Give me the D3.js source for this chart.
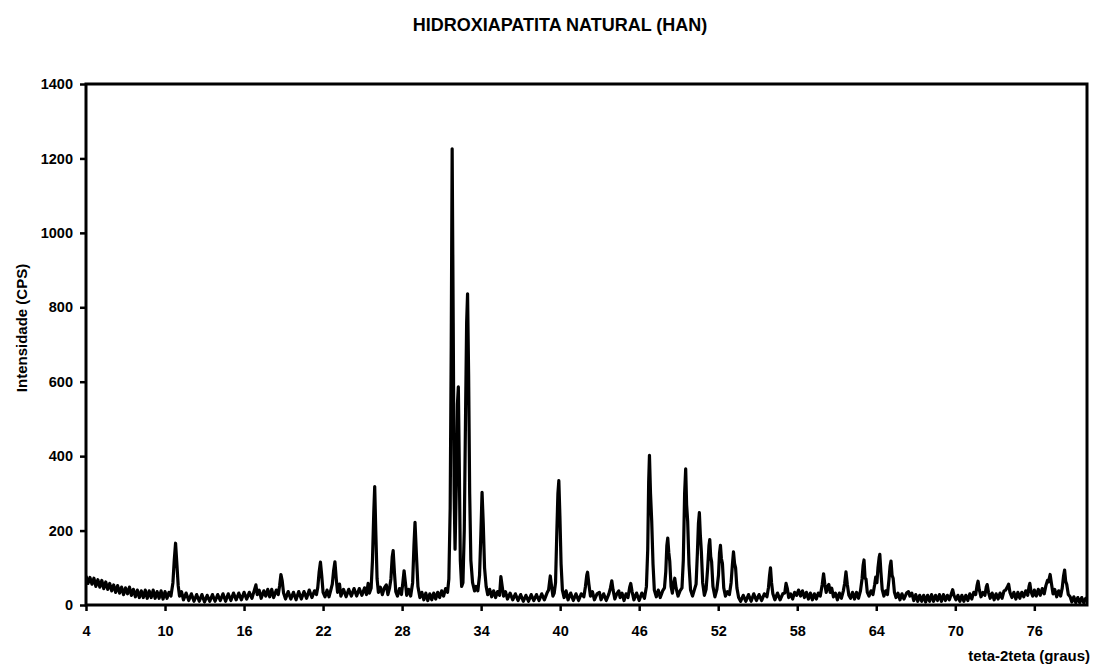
<!DOCTYPE html>
<html>
<head>
<meta charset="utf-8">
<script src="https://cdn.jsdelivr.net/npm/d3@7.9.0/dist/d3.min.js"></script>
<style>
  body { margin: 0; background: #fff; }
  svg { display: block; font-family: Arial, "Liberation Sans", sans-serif; }
  .tick text { font-size: 14.5px; font-weight: bold; fill: #000; }
  .tick line { stroke: #000; stroke-width: 2.5; }
</style>
</head>
<body>
<svg width="1093" height="666"></svg>
<script>
// scan values [2theta, CPS], split by range
let scanLow = [
  [4.0,78],[4.15,58],[4.3,74],[4.45,56],[4.6,72],[4.75,50],[4.9,68],[5.05,48],[5.2,66],[5.35,44],
  [5.5,62],[5.65,42],[5.8,58],[5.95,38],[6.1,54],[6.25,34],[6.4,52],[6.55,32],[6.7,48],[6.85,28],
  [7.0,46],[7.15,30],[7.3,48],[7.45,26],[7.6,42],[7.75,22],[7.9,40],[8.05,20],[8.2,38],[8.35,20],
  [8.5,40],[8.65,18],[8.8,38],[8.95,20],[9.1,40],[9.25,18],[9.4,36],[9.55,18],[9.7,38],[9.85,16],
  [10.0,36],[10.15,18],[10.3,34],[10.45,24],[10.6,60],[10.7,120],[10.8,166],[10.9,110],[11.0,52],
  [11.1,24],[11.25,36],[11.4,14],[11.6,32],[11.8,12],[12.0,30],[12.2,10],[12.4,28],[12.6,10],
  [12.8,28],[13.0,8],[13.2,26],[13.4,10],[13.6,28],[13.8,10],[14.0,28],[14.2,12],[14.4,30],
  [14.6,10],[14.8,30],[15.0,12],[15.2,32],[15.4,14],[15.6,32],[15.8,14],[16.0,34],[16.2,16],
  [16.4,34],[16.6,18]
];
let scanMid = [
  [16.75,36],[16.9,54],[17.0,28],[17.15,40],[17.3,18],[17.5,38],[17.65,24],[17.8,42],[17.95,22],
  [18.1,42],[18.25,20],[18.45,40],[18.6,28],[18.7,52],[18.8,82],[18.9,64],[19.0,32],[19.15,16],
  [19.35,36],[19.55,16],[19.75,34],[19.95,14],[20.15,36],[20.35,16],[20.55,36],[20.75,18],
  [20.95,40],[21.15,20],[21.35,38],[21.5,28],[21.6,48],[21.7,88],[21.8,115],[21.9,78],[22.0,34],
  [22.15,22],[22.3,40],[22.45,22],[22.6,42],[22.7,56],[22.8,92],[22.9,116],[23.0,70],[23.1,34],
  [23.25,56],[23.35,24],[23.55,42],[23.75,22],[23.95,42],[24.15,24],[24.35,44],[24.55,24],
  [24.75,44],[24.95,26],[25.15,46],[25.3,28],[25.42,58],[25.52,32],[25.65,46],[25.75,120],
  [25.85,250],[25.92,318],[26.0,200],[26.1,70],[26.2,34],[26.35,48],[26.5,28],[26.65,46],
  [26.8,54],[26.92,28],[27.05,46],[27.15,70],[27.25,130],[27.32,146],[27.42,86],[27.52,36],
  [27.65,24],[27.8,44],[27.95,28],[28.05,58],[28.15,92],[28.25,60],[28.35,26],[28.5,42],
  [28.65,24],[28.8,60],[28.9,160],[28.98,222],[29.08,140],[29.2,50],[29.35,20],[29.5,34],
  [29.65,14],[29.8,32],[29.95,12],[30.1,30],[30.25,14],[30.4,32],[30.55,16],[30.7,34],
  [30.85,20],[31.0,38],[31.15,24],[31.3,44],[31.45,34],[31.55,70]
];
let scanMain = [
  [31.65,260],[31.73,700],[31.8,1226],[31.88,760],[31.95,300],[32.02,150],[32.12,330],[32.2,540],
  [32.27,586],[32.34,380],[32.42,120],[32.52,50],[32.62,60],[32.72,200],[32.82,520],[32.9,760],
  [32.97,836],[33.05,620],[33.13,300],[33.22,120],[33.35,60],[33.5,38],[33.62,50],[33.75,38],
  [33.88,80],[33.98,190],[34.07,303],[34.16,220],[34.26,100],[34.38,50],[34.5,28],[34.65,42],
  [34.8,22],[34.95,38],[35.1,20],[35.25,36],[35.4,26],[35.5,76],[35.6,50],[35.7,24],[35.85,36],
  [36.0,16]
];
let scanHigh = [
  [36.2,32],[36.4,14],[36.6,30],[36.8,12],[37.0,28],[37.2,10],[37.4,26],[37.6,10],[37.8,28],
  [38.0,12],[38.2,28],[38.4,12],[38.6,30],[38.8,14],[39.0,32],[39.12,40],[39.25,78],[39.35,50],
  [39.45,24],[39.55,32],[39.65,60],[39.75,200],[39.83,300],[39.9,334],[39.98,240],[40.07,110],
  [40.17,40],[40.3,20],[40.45,38],[40.6,14],[40.8,32],[41.0,12],[41.2,30],[41.4,12],[41.6,30],
  [41.8,22],[41.92,50],[42.02,80],[42.08,88],[42.18,56],[42.3,24],[42.45,36],[42.6,14],[42.8,30],
  [42.98,34],[43.1,14],[43.3,30],[43.5,12],[43.7,30],[43.82,46],[43.92,65],[44.02,40],[44.15,16],
  [44.3,30],[44.45,38],[44.55,20],[44.7,32],[44.85,12],[45.0,30],[45.15,20],[45.28,48],[45.36,58],
  [45.46,36],[45.6,14],[45.8,32],[46.0,12],[46.2,32],[46.4,18],[46.55,50],[46.65,150],[46.72,330],
  [46.78,402],[46.86,300],[46.95,226],[47.05,110],[47.15,40],[47.3,22],[47.45,40],[47.6,20],
  [47.78,38],[47.92,46],[48.02,90],[48.1,160],[48.17,180],[48.25,140],[48.32,118],[48.42,50],
  [48.52,32],[48.62,58],[48.7,72],[48.8,46],[48.95,24],[49.1,38],[49.25,46],[49.35,120],
  [49.45,300],[49.53,366],[49.6,270],[49.68,226],[49.78,110],[49.9,40],[50.05,24],[50.2,42],
  [50.32,56],[50.42,140],[50.5,220],[50.57,248],[50.64,190],[50.72,144],[50.82,60],[50.95,26],
  [51.08,42],[51.2,100],[51.3,160],[51.36,176],[51.43,130],[51.5,116],[51.6,50],[51.75,22],
  [51.9,42],[52.02,80],[52.1,140],[52.17,160],[52.24,125],[52.32,112],[52.42,46],[52.55,24],
  [52.7,36],[52.85,28],[52.98,60],[53.08,110],[53.16,143],[53.24,112],[53.32,100],[53.42,46],
  [53.55,20],[53.7,10],[53.9,26]
];
let scanTail = [
  [54.1,10],[54.3,28],[54.5,10],[54.7,30],[54.9,12],[55.1,28],[55.3,12],[55.5,30],[55.7,22],
  [55.82,48],[55.9,80],[55.97,100],[56.05,60],[56.15,30],[56.3,14],[56.5,32],[56.7,14],[56.9,30],
  [57.05,32],[57.15,58],[57.25,44],[57.35,20],[57.5,30],[57.65,16],[57.8,34],[57.95,26],[58.1,40],
  [58.25,24],[58.4,38],[58.55,20],[58.7,34],[58.85,16],[59.0,32],[59.15,14],[59.3,30],[59.45,16],
  [59.6,32],[59.75,24],[59.9,56],[60.0,84],[60.1,54],[60.2,34],[60.3,50],[60.4,55],[60.5,34],
  [60.62,45],[60.75,22],[60.9,32],[61.05,14],[61.2,32],[61.35,18],[61.5,38],[61.6,58],[61.7,89],
  [61.8,56],[61.92,26],[62.05,18],[62.2,34],[62.35,16],[62.5,34],[62.65,18],[62.8,38],[62.92,70],
  [63.0,106],[63.07,121],[63.15,72],[63.22,70],[63.32,34],[63.45,24],[63.6,38],[63.75,28],
  [63.88,55],[63.96,75],[64.05,60],[64.13,100],[64.22,128],[64.27,136],[64.35,90],[64.45,42],
  [64.58,24],[64.72,38],[64.85,28],[64.97,70],[65.05,105],[65.12,118],[65.2,80],[65.28,72],
  [65.38,34],[65.5,20],[65.65,32],[65.8,14],[65.95,30],[66.1,16],[66.3,32],[66.45,36],[66.55,24],
  [66.7,32],[66.85,12],[67.0,28],[67.15,10],[67.3,26],[67.45,10],[67.6,26],[67.75,8],[67.9,26],
  [68.05,10],[68.2,28],[68.35,10],[68.5,26],[68.65,12],[68.8,28],[68.95,10],[69.1,28],[69.25,12],
  [69.4,26],[69.55,14],[69.7,30],[69.8,41],[69.9,26],[70.05,14],[70.2,26],[70.35,10],[70.5,26],
  [70.65,10],[70.8,26],[70.95,12],[71.1,30],[71.25,16],[71.4,34],[71.55,28],[71.65,52],[71.73,64],
  [71.82,42],[71.95,22],[72.1,34],[72.25,26],[72.35,48],[72.42,55],[72.52,34],[72.65,18],[72.8,32],
  [72.95,14],[73.1,30],[73.25,16],[73.4,32],[73.55,18],[73.7,38],[73.82,40],[73.95,48],[74.05,56],
  [74.15,34],[74.3,20],[74.45,34],[74.6,16],[74.75,34],[74.9,18],[75.05,34],[75.2,22],[75.35,38],
  [75.5,26],[75.6,50],[75.66,58],[75.75,36],[75.88,24],[76.0,40],[76.15,24],[76.3,42],[76.45,26],
  [76.6,44],[76.75,30],[76.88,52],[77.0,66],[77.08,62],[77.2,82],[77.3,58],[77.42,30],[77.55,42],
  [77.7,22],[77.85,38],[78.0,24],[78.12,46],[78.22,78],[78.3,94],[78.38,64],[78.46,56],[78.58,28],
  [78.72,22],[78.85,8],[79.0,22],[79.15,6],[79.3,20],[79.45,6],[79.6,20],[79.75,6],[79.9,18],
  [80.0,10]
];
let xTicks = [4, 10, 16, 22, 28, 34, 40, 46, 52, 58, 64, 70, 76];
let yTicks = [0, 200, 400, 600, 800, 1000, 1200, 1400];

let scan = scanLow.concat(scanMid, scanMain, scanHigh, scanTail);

let margin = { top: 84, right: 6, bottom: 61, left: 86 };
let width = 1093 - margin.left - margin.right;
let height = 666 - margin.top - margin.bottom;

let svg = d3.select('svg');
let g = svg.append('g').attr('transform', `translate(${margin.left},${margin.top})`);

let x = d3.scaleLinear().domain([4, 80]).range([0, width]);
let y = d3.scaleLinear().domain([0, 1400]).range([height, 0]);

// clip so the trace stays inside the frame
g.append('clipPath').attr('id', 'plot-clip')
  .append('rect').attr('width', width).attr('height', height);

let line = d3.line().x(d => x(d[0])).y(d => y(d[1]));
g.append('path')
  .datum(scan)
  .attr('clip-path', 'url(#plot-clip)')
  .attr('fill', 'none')
  .attr('stroke', '#000')
  .attr('stroke-width', 3.2)
  .attr('stroke-linejoin', 'round')
  .attr('d', line);

let xAxis = g.append('g')
  .attr('transform', `translate(0,${height})`)
  .call(d3.axisBottom(x).tickValues(xTicks).tickSize(6).tickFormat(d3.format('d')));
xAxis.select('.domain').remove();
xAxis.selectAll('text').attr('y', 21);

let yAxis = g.append('g')
  .call(d3.axisLeft(y).tickValues(yTicks).tickSize(6).tickFormat(d3.format('d')));
yAxis.select('.domain').remove();
yAxis.selectAll('text').attr('x', -13);

// plot frame
g.append('rect')
  .attr('width', width).attr('height', height)
  .attr('fill', 'none').attr('stroke', '#000').attr('stroke-width', 3);

svg.append('text')
  .attr('x', 560).attr('y', 31)
  .attr('text-anchor', 'middle')
  .style('font-size', '18px').style('font-weight', 'bold')
  .text('HIDROXIAPATITA NATURAL (HAN)');

svg.append('text')
  .attr('transform', 'translate(27,328) rotate(-90)')
  .attr('text-anchor', 'middle')
  .style('font-size', '15px').style('font-weight', 'bold')
  .text('Intensidade (CPS)');

svg.append('text')
  .attr('x', 1090).attr('y', 661)
  .attr('text-anchor', 'end')
  .style('font-size', '15px').style('font-weight', 'bold')
  .text('teta-2teta (graus)');
</script>
</body>
</html>
